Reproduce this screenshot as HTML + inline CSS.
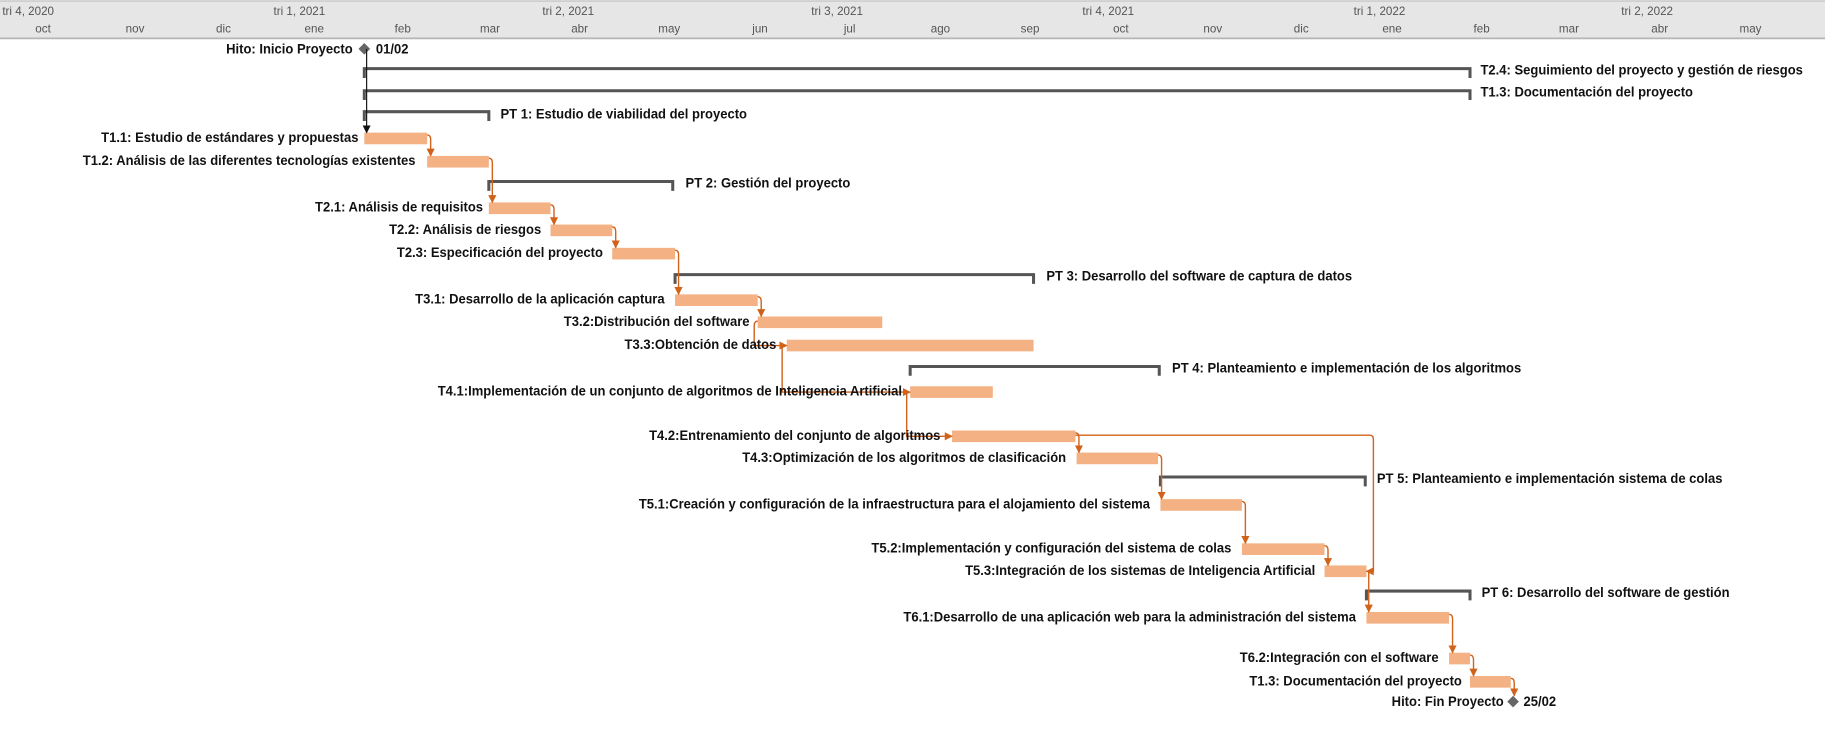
<!DOCTYPE html>
<html><head><meta charset="utf-8"><style>
html,body{margin:0;padding:0;background:#fff;width:1825px;height:733px;overflow:hidden}
svg{display:block}
.h{font-family:"Liberation Sans",sans-serif;font-size:10px;fill:#555}
.l{font-family:"Liberation Sans",sans-serif;font-size:11.5px;font-weight:bold;fill:#111}
.bar{fill:#f4b183}
.br{fill:none;stroke:#555;stroke-width:2.6}
.c{fill:none;stroke:#d0621a;stroke-width:1.2}
</style></head><body>
<svg width="1825" height="733" viewBox="0 0 1568 630" preserveAspectRatio="none" xmlns="http://www.w3.org/2000/svg">
<defs>
<marker id="a" viewBox="0 0 10 10" refX="9" refY="5" markerWidth="7" markerHeight="7" orient="auto-start-reverse" markerUnits="userSpaceOnUse"><path d="M0,0L10,5L0,10z" fill="#d0621a"/></marker>
<marker id="k" viewBox="0 0 10 10" refX="9" refY="5" markerWidth="7" markerHeight="7" orient="auto" markerUnits="userSpaceOnUse"><path d="M0,0L10,5L0,10z" fill="#111"/></marker>
</defs>
<rect x="0" y="0" width="1568" height="33" fill="#e6e6e6"/>
<line x1="0" y1="1" x2="1568" y2="1" stroke="#cfcfcf" stroke-width="1.5"/>
<line x1="0" y1="33" x2="1568" y2="33" stroke="#b5b5b5" stroke-width="1.5"/>
<g class="h">
<text x="2" y="13">tri 4, 2020</text><text x="235" y="13">tri 1, 2021</text><text x="466" y="13">tri 2, 2021</text><text x="697" y="13">tri 3, 2021</text><text x="930" y="13">tri 4, 2021</text><text x="1163" y="13">tri 1, 2022</text><text x="1393" y="13">tri 2, 2022</text>
</g>
<g class="h" text-anchor="middle">
<text x="37" y="28">oct</text><text x="116" y="28">nov</text><text x="192" y="28">dic</text><text x="270" y="28">ene</text><text x="346" y="28">feb</text><text x="421" y="28">mar</text><text x="498" y="28">abr</text><text x="575" y="28">may</text><text x="653" y="28">jun</text><text x="730" y="28">jul</text><text x="808" y="28">ago</text><text x="885" y="28">sep</text><text x="963" y="28">oct</text><text x="1042" y="28">nov</text><text x="1118" y="28">dic</text><text x="1196" y="28">ene</text><text x="1273" y="28">feb</text><text x="1348" y="28">mar</text><text x="1426" y="28">abr</text><text x="1504" y="28">may</text>
</g>

<path class="br" d="M313,67V59H1263V67"/>
<path class="br" d="M313,86V78H1263V86"/>
<path class="br" d="M313,104V96H420V104"/>
<path class="br" d="M420,164V156H578V164"/>
<path class="br" d="M580,244V236H888V244"/>
<path class="br" d="M782,323V315H996V323"/>
<path class="br" d="M997,418V410H1173V418"/>
<path class="br" d="M1174,516V508H1263V516"/>

<rect class="bar" x="313" y="114" width="54" height="10"/>
<rect class="bar" x="367" y="134" width="53" height="10"/>
<rect class="bar" x="420" y="174" width="53" height="10"/>
<rect class="bar" x="473" y="193" width="53" height="10"/>
<rect class="bar" x="526" y="213" width="54" height="10"/>
<rect class="bar" x="580" y="253" width="71" height="10"/>
<rect class="bar" x="651" y="272" width="107" height="10"/>
<rect class="bar" x="676" y="292" width="212" height="10"/>
<rect class="bar" x="782" y="332" width="71" height="10"/>
<rect class="bar" x="818" y="370" width="106" height="10"/>
<rect class="bar" x="925" y="389" width="70" height="10"/>
<rect class="bar" x="997" y="429" width="70" height="10"/>
<rect class="bar" x="1067" y="467" width="71" height="10"/>
<rect class="bar" x="1138" y="486" width="36" height="10"/>
<rect class="bar" x="1174" y="526" width="71" height="10"/>
<rect class="bar" x="1245" y="561" width="18" height="10"/>
<rect class="bar" x="1263" y="581" width="35" height="10"/>

<path d="M313,37L318,42L313,47L308,42z" fill="#666"/>
<path d="M1300,598L1305,603L1300,608L1295,603z" fill="#666"/>
<line x1="315" y1="42" x2="315" y2="114" stroke="#111" stroke-width="1" marker-end="url(#k)"/>

<path class="c" marker-end="url(#a)" d="M367,116Q370,116 370,120V134"/>
<path class="c" marker-end="url(#a)" d="M420,136Q423,136 423,140V174"/>
<path class="c" marker-end="url(#a)" d="M473,176Q476,176 476,180V193"/>
<path class="c" marker-end="url(#a)" d="M526,195Q529,195 529,199V213"/>
<path class="c" marker-end="url(#a)" d="M580,215Q583,215 583,219V253"/>
<path class="c" marker-end="url(#a)" d="M651,255Q654,255 654,259V272"/>
<path class="c" marker-end="url(#a)" d="M651,276Q648,276 648,280V297H676"/>
<path class="c" marker-end="url(#a)" d="M672,297V337H782"/>
<path class="c" marker-end="url(#a)" d="M779,337V375H818"/>
<path class="c" marker-end="url(#a)" d="M924,372Q927,372 927,376V389"/>
<path class="c" marker-end="url(#a)" d="M924,374H1177Q1180,374 1180,378V491H1174"/>
<path class="c" marker-end="url(#a)" d="M995,391Q998,391 998,395V429"/>
<path class="c" marker-end="url(#a)" d="M1067,431Q1070,431 1070,435V467"/>
<path class="c" marker-end="url(#a)" d="M1138,469Q1141,469 1141,473V486"/>
<path class="c" marker-end="url(#a)" d="M1176,491V526"/>
<path class="c" marker-end="url(#a)" d="M1245,528Q1248,528 1248,532V561"/>
<path class="c" marker-end="url(#a)" d="M1263,563Q1266,563 1266,567V581"/>
<path class="c" marker-end="url(#a)" d="M1298,583Q1301,583 1301,587V598"/>

<g class="l">
<text x="1272" y="64" id="ref">T2.4: Seguimiento del proyecto y gestión de riesgos</text>
<text x="1272" y="83">T1.3: Documentación del proyecto</text>
<text x="430" y="102">PT 1: Estudio de viabilidad del proyecto</text>
<text x="589" y="161">PT 2: Gestión del proyecto</text>
<text x="899" y="241">PT 3: Desarrollo del software de captura de datos</text>
<text x="1007" y="320">PT 4: Planteamiento e implementación de los algoritmos</text>
<text x="1183" y="415">PT 5: Planteamiento e implementación sistema de colas</text>
<text x="1273" y="513">PT 6: Desarrollo del software de gestión</text>
<text x="323" y="46">01/02</text>
<text x="1309" y="607">25/02</text>
</g>
<g class="l" text-anchor="end">
<text x="303" y="46">Hito: Inicio Proyecto</text>
<text x="308" y="122">T1.1: Estudio de estándares y propuestas</text>
<text x="357" y="142">T1.2: Análisis de las diferentes tecnologías existentes</text>
<text x="415" y="182">T2.1: Análisis de requisitos</text>
<text x="465" y="201">T2.2: Análisis de riesgos</text>
<text x="518" y="221">T2.3: Especificación del proyecto</text>
<text x="571" y="261">T3.1: Desarrollo de la aplicación captura</text>
<text x="644" y="280">T3.2:Distribución del software</text>
<text x="667" y="300">T3.3:Obtención de datos</text>
<text x="775" y="340">T4.1:Implementación de un conjunto de algoritmos de Inteligencia Artificial</text>
<text x="808" y="378">T4.2:Entrenamiento del conjunto de algoritmos</text>
<text x="916" y="397">T4.3:Optimización de los algoritmos de clasificación</text>
<text x="988" y="437">T5.1:Creación y configuración de la infraestructura para el alojamiento del sistema</text>
<text x="1058" y="475">T5.2:Implementación y configuración del sistema de colas</text>
<text x="1130" y="494">T5.3:Integración de los sistemas de Inteligencia Artificial</text>
<text x="1165" y="534">T6.1:Desarrollo de una aplicación web para la administración del sistema</text>
<text x="1236" y="569">T6.2:Integración con el software</text>
<text x="1256" y="589">T1.3: Documentación del proyecto</text>
<text x="1292" y="607">Hito: Fin Proyecto</text>
</g>
</svg>
<script>
(function(){
var ref=document.getElementById('ref');
var w=ref.getComputedTextLength();
var f=w>0?277/w:0.8;
var ts=document.querySelectorAll('.l text');
for(var i=0;i<ts.length;i++){var t=ts[i];var L=t.getComputedTextLength();
t.setAttribute('textLength',(L*f).toFixed(1));t.setAttribute('lengthAdjust','spacingAndGlyphs');}
})();
</script>
</body></html>
